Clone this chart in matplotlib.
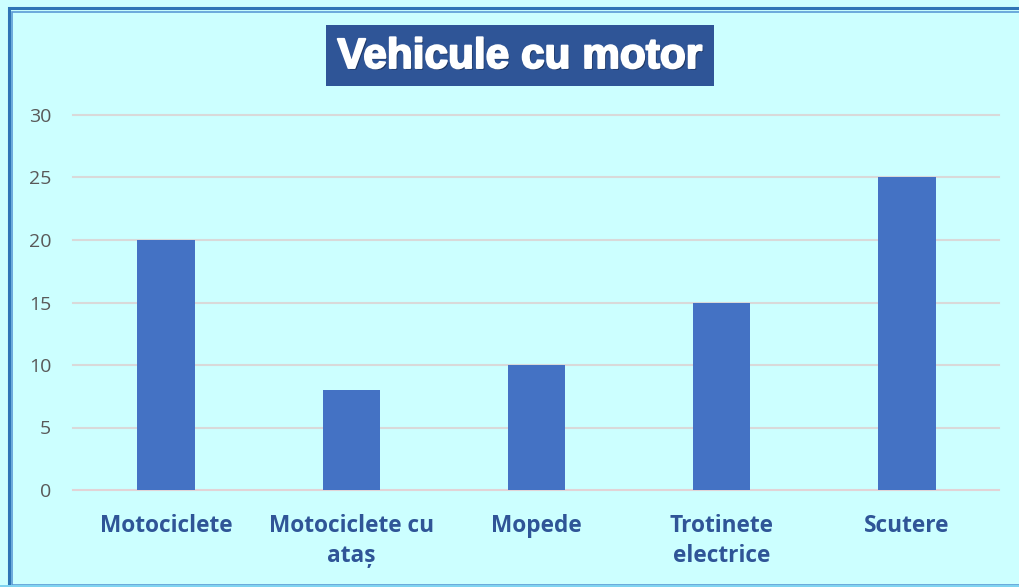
import matplotlib.pyplot as plt
import matplotlib.patheffects as pe
from matplotlib.patches import Rectangle
import numpy as np

categories = ["Motociclete", "Motociclete cu\nata\u0219", "Mopede", "Trotinete\nelectrice", "Scutere"]
values = [20, 8, 10, 15, 25]
yticks = [0, 5, 10, 15, 20, 25, 30]

W, H = 1020, 587
bg = "#CCFFFF"
fig = plt.figure(figsize=(W / 100, H / 100), dpi=100)
fig.patch.set_facecolor(bg)

# chenar dublu albastru
fig.add_artist(Rectangle((9 / W, -0.01), 1.05, (H - 8) / H + 0.01, transform=fig.transFigure,
                         fill=False, edgecolor="#2E75B6", linewidth=2.2))
fig.add_artist(Rectangle((12.5 / W, 2 / H), 1.05, (H - 14) / H, transform=fig.transFigure,
                         fill=False, edgecolor="#5B9BD5", linewidth=1.2))
fig.add_artist(Rectangle((0, 0), 1, 2 / H, transform=fig.transFigure,
                         facecolor="#7FD3F0", edgecolor="none"))

ax = fig.add_axes([73.5 / W, (H - 490) / H, (999.5 - 73.5) / W, (490 - 115) / H])
ax.set_facecolor(bg)
x = np.arange(len(categories))
ax.bar(x, values, width=0.31, color="#4472C4", zorder=3)
ax.set_xlim(-0.5, len(categories) - 0.5)
ax.set_ylim(0, 30)
ax.set_yticks(yticks)
for y in yticks:
    ax.axhline(y, color="#E2D3D6" if y == 0 else "#D9D9D9", linewidth=1.5,
               zorder=0 if y else 2, clip_on=False)
for s in ax.spines.values():
    s.set_visible(False)
ax.tick_params(axis="both", length=0)
ax.tick_params(axis="y", pad=16, labelsize=14, labelcolor="#595959")
ax.set_xticks(x)
ax.set_xticklabels(categories, fontsize=16.3, fontweight="bold", color="#2F5597",
                   linespacing=1.38, va="top")
ax.tick_params(axis="x", pad=17)
for lab in ax.get_yticklabels() + ax.get_xticklabels():
    lab.set_family(["Open Sans", "DejaVu Sans"])

fig.add_artist(Rectangle((326 / W, (H - 86) / H), (714 - 326) / W, 61 / H,
                         transform=fig.transFigure, facecolor="#2F5597", edgecolor="none"))
fig.text(520 / W, (H - 57) / H, "Vehicule cu motor", ha="center", va="center",
         fontsize=30.5, fontweight="bold", color="white", family="Liberation Sans",
         path_effects=[pe.withSimplePatchShadow(offset=(1.2, -1.2), shadow_rgbFace="#1A2E55", alpha=0.8),
                       pe.withStroke(linewidth=1.4, foreground="white")])

fig.savefig("out.png", dpi=100, facecolor=bg)
